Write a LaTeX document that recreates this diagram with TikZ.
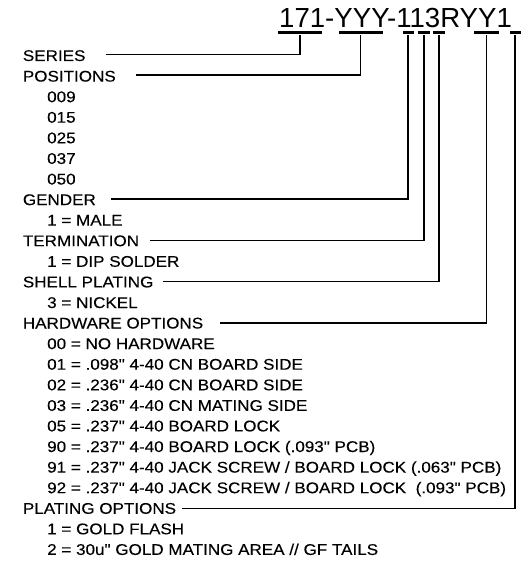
\documentclass[tikz,border=0pt]{standalone}
\usepackage{fontspec}
\setmainfont{Liberation Sans}
\newfontfamily\lblfont[FakeStretch=1.1,FakeBold=0.2]{Liberation Sans}
\begin{document}
\begin{tikzpicture}[x=1pt,y=-1pt]
	\tikzset{hdr/.style={anchor=base west, inner sep=0pt, font=\lblfont\fontsize{15.5}{17}\selectfont},
		opt/.style={hdr},
		bar/.style={fill=black, inner sep=0pt, minimum height=3pt},
		lead/.style={line width=1.3pt}}
	\useasboundingbox (0,0) rectangle (531,561);
	% part number and its bars
	\node[anchor=base west, inner sep=0pt, font=\fontsize{27.6}{30}\selectfont] (pn) at (279,27.5) {171-YYY-113RYY1};
	\node[bar, minimum width=44pt] (b171) at (300,33)   {};
	\node[bar, minimum width=44pt] (byyy) at (360.5,33) {};
	\node[bar, minimum width=11pt] (bg)   at (408,33)   {};
	\node[bar, minimum width=12pt] (bt)   at (424,33)   {};
	\node[bar, minimum width=12pt] (bs)   at (439,33)   {};
	\node[bar, minimum width=25pt] (bh)   at (486.5,33) {};
	\node[bar, minimum width=11pt] (bp)   at (515,33)   {};
	% fields
	\node[hdr] (ser)  at (22.7,61)    {SERIES};
	\node[hdr] (pos)  at (22.7,81.6)  {POSITIONS};
	\node[opt] (p1)   at (47,102.2)   {009};
	\node[opt] (p2)   at (47,122.7)   {015};
	\node[opt] (p3)   at (47,143.3)   {025};
	\node[opt] (p4)   at (47,163.9)   {037};
	\node[opt] (p5)   at (47,184.5)   {050};
	\node[hdr] (gen)  at (22.7,205.1) {GENDER};
	\node[opt] (g1)   at (47,225.6)   {1 = MALE};
	\node[hdr] (ter)  at (22.7,246.2) {TERMINATION};
	\node[opt] (t1)   at (47,266.8)   {1 = DIP SOLDER};
	\node[hdr] (shp)  at (22.7,287.4) {SHELL PLATING};
	\node[opt] (s1)   at (47,308)     {3 = NICKEL};
	\node[hdr] (hw)   at (22.7,328.5) {HARDWARE OPTIONS};
	\node[opt] (h1)   at (47,349.1)   {00 = NO HARDWARE};
	\node[opt] (h2)   at (47,369.7)   {01 = .098" 4-40 CN BOARD SIDE};
	\node[opt] (h3)   at (47,390.3)   {02 = .236" 4-40 CN BOARD SIDE};
	\node[opt] (h4)   at (47,410.9)   {03 = .236" 4-40 CN MATING SIDE};
	\node[opt] (h5)   at (47,431.4)   {05 = .237" 4-40 BOARD LOCK};
	\node[opt] (h6)   at (47,452)     {90 = .237" 4-40 BOARD LOCK (.093" PCB)};
	\node[opt] (h7)   at (47,472.6)   {91 = .237" 4-40 JACK SCREW / BOARD LOCK (.063" PCB)};
	\node[opt] (h8)   at (47,493.2)   {92 = .237" 4-40 JACK SCREW / BOARD LOCK \ (.093" PCB)};
	\node[hdr] (pl)   at (22.7,513.8) {PLATING OPTIONS};
	\node[opt] (pl1)  at (47,534.3)   {1 = GOLD FLASH};
	\node[opt] (pl2)  at (47,554.9)   {2 = 30u" GOLD MATING AREA // GF TAILS};
	% leaders
	\draw[lead] ([shift={(20,-6.5)}]ser.base east) -| (b171.south);
	\draw[lead] ([shift={(20,-6.5)}]pos.base east) -| (byyy.south);
	\draw[lead] ([shift={(15,-6)}]gen.base east)   -| (bg.south);
	\draw[lead] ([shift={(11,-5.5)}]ter.base east) -| (bt.south);
	\draw[lead] ([shift={(9,-6)}]shp.base east)    -| (bs.south);
	\draw[lead] ([shift={(17,-5.5)}]hw.base east)  -| (bh.south);
	\draw[lead] ([shift={(6,-5)}]pl.base east)     -| (bp.south);
\end{tikzpicture}
\end{document}
